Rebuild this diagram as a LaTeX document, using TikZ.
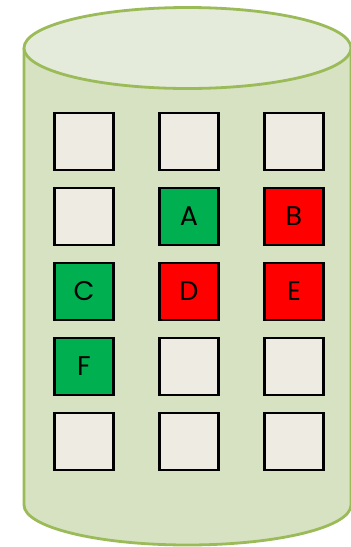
\documentclass[tikz,border=0pt]{standalone}
\usepackage{fontspec}
\setmainfont{Poppins}
\definecolor{cylbody}{HTML}{D7E2C3}
\definecolor{cyltop}{HTML}{E4EBDB}
\definecolor{cylline}{HTML}{9BBB59}
\definecolor{cellfill}{HTML}{EEECE2}
\definecolor{cellgreen}{HTML}{00B050}
\definecolor{cellred}{HTML}{FF0000}
\begin{document}
\begin{tikzpicture}[x=1pt,y=-1pt,
  cell/.style={draw=black,line width=2.2pt,fill=cellfill,minimum width=59pt,minimum height=57pt,inner sep=0pt,font=\fontsize{27}{27}\selectfont},
  good/.style={cell,fill=cellgreen},
  bad/.style={cell,fill=cellred}]
\useasboundingbox (0,0) rectangle (351,547);
% cylinder body
\fill[cylbody] (24,48) -- (24,505) arc[start angle=180,end angle=360,x radius=163.5,y radius=-40] -- (351,48) -- cycle;
\draw[cylline,line width=2.8pt] (24,48) -- (24,505) arc[start angle=180,end angle=360,x radius=163.5,y radius=-40] -- (351,48);
\draw[cylline,line width=2.8pt,fill=cyltop] (187.5,48) ellipse[x radius=163.5,y radius=40.5];
% cells
\node[cell] (c11) at (84,141.5) {};
\node[cell] (c12) at (189,141.5) {};
\node[cell] (c13) at (294,141.5) {};
\node[cell] (c21) at (84,216.5) {};
\node[good] (c22) at (189,216.5) {A};
\node[bad] (c23) at (294,216.5) {B};
\node[good] (c31) at (84,291.5) {C};
\node[bad] (c32) at (189,291.5) {D};
\node[bad] (c33) at (294,291.5) {E};
\node[good] (c41) at (84,366.5) {F};
\node[cell] (c42) at (189,366.5) {};
\node[cell] (c43) at (294,366.5) {};
\node[cell] (c51) at (84,441.5) {};
\node[cell] (c52) at (189,441.5) {};
\node[cell] (c53) at (294,441.5) {};
\end{tikzpicture}
\end{document}
